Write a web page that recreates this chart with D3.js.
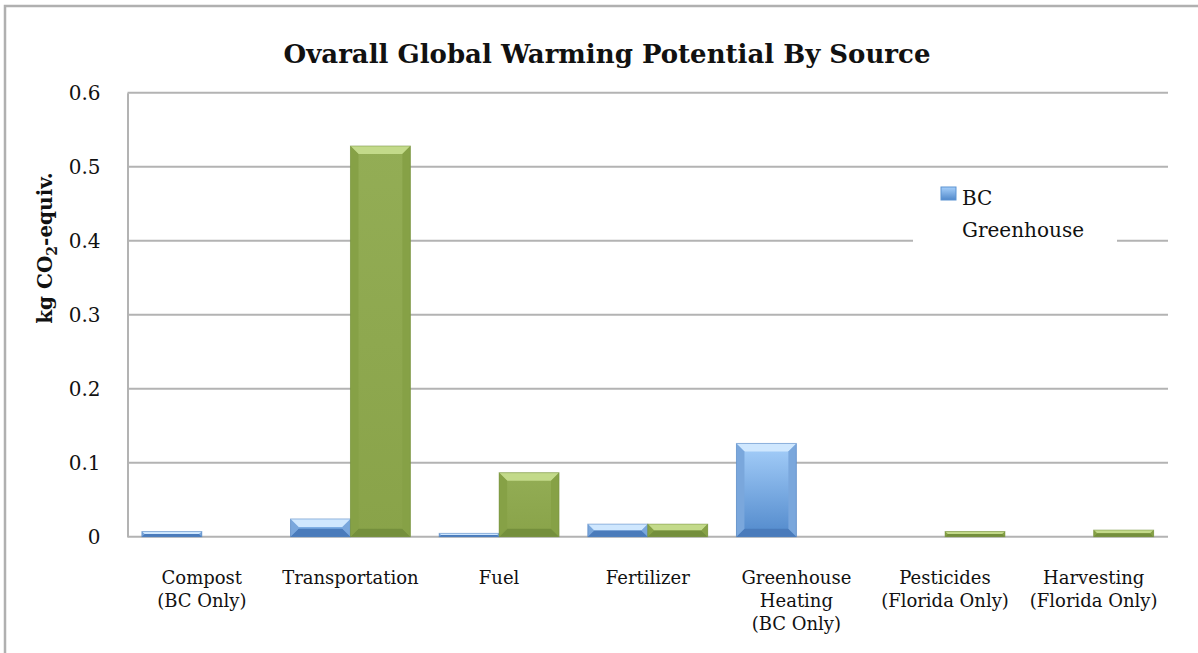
<!DOCTYPE html>
<html>
<head>
<meta charset="utf-8">
<script src="https://cdn.jsdelivr.net/npm/d3@7"></script>
<style>
  body { margin: 0; background: #fff; }
  svg { display: block; }
</style>
</head>
<body>
<div id="chart"></div>
<script>
const categories = [
  ["Compost", "(BC Only)"],
  ["Transportation"],
  ["Fuel"],
  ["Fertilizer"],
  ["Greenhouse", "Heating", "(BC Only)"],
  ["Pesticides", "(Florida Only)"],
  ["Harvesting", "(Florida Only)"]
];
const seriesNames = ["BC Greenhouse", "Florida"];
const bcValues = [0.007, 0.024, 0.0045, 0.017, 0.126, 0, 0];
const floridaValues = [0, 0.528, 0.0865, 0.017, 0, 0.007, 0.009];
const yTicks = [0, 0.1, 0.2, 0.3, 0.4, 0.5, 0.6];

const W = 1198, H = 653;
const margin = { top: 92.7, left: 127.5, right: 30, bottom: 116.3 };
const width = W - margin.left - margin.right;
const height = H - margin.top - margin.bottom;

const svg = d3.select("#chart").append("svg")
    .attr("width", W)
    .attr("height", H)
    .attr("font-family", "DejaVu Serif, serif");

// outer frame (cut at right and bottom)
svg.append("rect")
    .attr("x", 5).attr("y", 6)
    .attr("width", W + 20).attr("height", H + 20)
    .attr("fill", "none")
    .attr("stroke", "#b0b0b0")
    .attr("stroke-width", 2.5);

const defs = svg.append("defs");
const blueGrad = defs.append("linearGradient").attr("id", "blueGrad")
    .attr("x1", 0).attr("y1", 0).attr("x2", 0).attr("y2", 1);
blueGrad.append("stop").attr("offset", "0%").attr("stop-color", "#a6cffa");
blueGrad.append("stop").attr("offset", "100%").attr("stop-color", "#5189cb");
const greenGrad = defs.append("linearGradient").attr("id", "greenGrad")
    .attr("x1", 0).attr("y1", 0).attr("x2", 0).attr("y2", 1);
greenGrad.append("stop").attr("offset", "0%").attr("stop-color", "#93ad55");
greenGrad.append("stop").attr("offset", "100%").attr("stop-color", "#89a349");

const palette = {
  "BC Greenhouse": { fill: "url(#blueGrad)", top: "#cfe7fe", bottom: "#4a7bbb", side: "#7aa7dc" },
  "Florida": { fill: "url(#greenGrad)", top: "#c3da8a", bottom: "#748f3c", side: "#86a146" }
};

const g = svg.append("g").attr("transform", `translate(${margin.left},${margin.top})`);

// title
svg.append("text")
    .attr("x", 607).attr("y", 63)
    .attr("text-anchor", "middle")
    .attr("font-weight", "bold")
    .attr("font-size", 26)
    .attr("fill", "#111")
    .text("Ovarall Global Warming Potential By Source");

// scales
const x0 = d3.scaleBand()
    .domain(d3.range(categories.length))
    .range([0, width])
    .padding(0);

const x1 = d3.scaleBand()
    .domain(seriesNames)
    .range([0, x0.bandwidth()])
    .paddingInner(0)
    .paddingOuter(0.24);

const y = d3.scaleLinear()
    .domain([0, 0.6])
    .range([height, 0]);

// gridlines
g.append("g")
  .selectAll("line")
  .data(yTicks)
  .join("line")
    .attr("x1", 0).attr("x2", width)
    .attr("y1", d => y(d)).attr("y2", d => y(d))
    .attr("stroke", "#b3b3b3")
    .attr("stroke-width", 2);

// y axis
const yAxis = d3.axisLeft(y).tickValues(yTicks).tickSize(0).tickPadding(27)
    .tickFormat(d => d === 0 ? "0" : d3.format(".1f")(d));
g.append("g")
    .call(yAxis)
    .call(a => a.select(".domain").attr("stroke", "#b3b3b3").attr("stroke-width", 2))
    .call(a => a.selectAll("text")
        .attr("font-family", "DejaVu Serif, serif")
        .attr("font-size", 20)
        .attr("fill", "#111"));

// y label
const yl = svg.append("text")
    .attr("transform", "translate(52,248) rotate(-90)")
    .attr("text-anchor", "middle")
    .attr("font-weight", "bold")
    .attr("font-size", 20)
    .attr("fill", "#111");
yl.append("tspan").text("kg CO");
yl.append("tspan").attr("font-size", 14).attr("dy", 5).text("2");
yl.append("tspan").attr("dy", -5).text("-equiv.");

// bars
const rows = [];
categories.forEach((c, i) => {
  rows.push({ cat: i, series: "BC Greenhouse", value: bcValues[i] });
  rows.push({ cat: i, series: "Florida", value: floridaValues[i] });
});

const bars = g.append("g")
  .selectAll("g")
  .data(rows.filter(d => d.value > 0))
  .join("g")
    .attr("transform", d => `translate(${x0(d.cat) + x1(d.series)},${y(d.value)})`);

bars.each(function(d) {
  const sel = d3.select(this);
  const w = x1.bandwidth();
  const h = y(0) - y(d.value);
  const b = Math.min(8, h / 2, w / 2);
  const p = palette[d.series];
  sel.append("rect").attr("width", w).attr("height", h).attr("fill", p.fill);
  const poly = (pts, fill) => sel.append("polygon")
      .attr("points", pts.map(q => q.join(",")).join(" "))
      .attr("fill", fill);
  poly([[0, 0], [w, 0], [w - b, b], [b, b]], p.top);
  poly([[0, h], [w, h], [w - b, h - b], [b, h - b]], p.bottom);
  poly([[0, 0], [b, b], [b, h - b], [0, h]], p.side);
  poly([[w, 0], [w - b, b], [w - b, h - b], [w, h]], p.side);
  sel.append("rect").attr("width", w).attr("height", h)
      .attr("fill", "none").attr("stroke", p.bottom).attr("stroke-opacity", 0.5).attr("stroke-width", 1);
});

// x category labels
const xl = g.append("g")
  .selectAll("text")
  .data(categories)
  .join("text")
    .attr("x", (d, i) => x0(i) + x0.bandwidth() / 2)
    .attr("y", height + 47)
    .attr("text-anchor", "middle")
    .attr("font-size", 18)
    .attr("fill", "#111");
xl.selectAll("tspan")
  .data(d => d)
  .join("tspan")
    .attr("x", function() { return d3.select(this.parentNode).attr("x"); })
    .attr("dy", (d, i) => i === 0 ? 0 : 23)
    .text(d => d);

// legend
const lg = svg.append("g").attr("transform", "translate(913,173)");
lg.append("rect").attr("width", 204).attr("height", 73).attr("fill", "#fff");
lg.append("rect").attr("x", 28).attr("y", 14).attr("width", 15).attr("height", 13)
    .attr("fill", "url(#blueGrad)").attr("stroke", "#5d93d2").attr("stroke-width", 1);
lg.append("text").attr("x", 49).attr("y", 32).attr("font-size", 20).attr("fill", "#111").text("BC");
lg.append("text").attr("x", 49).attr("y", 64).attr("font-size", 20).attr("fill", "#111").text("Greenhouse");
</script>
</body>
</html>
